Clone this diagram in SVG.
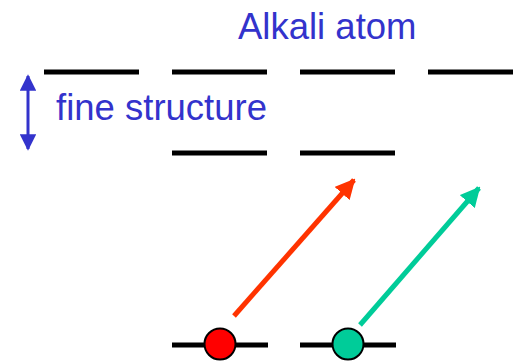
<svg xmlns="http://www.w3.org/2000/svg" width="513" height="361" viewBox="0 0 513 361">
<style>
.lvl{stroke:#000;stroke-width:5;fill:none}
.lbl{font-family:"Liberation Sans",Arial,sans-serif;font-size:36.5px;fill:#3333CC}
</style>
<defs>
<marker id="hb" viewBox="0 0 10 10" refX="10" refY="5" markerWidth="6" markerHeight="6" markerUnits="userSpaceOnUse" orient="auto"/>
<marker id="ar" viewBox="0 0 10 10" refX="9" refY="5" markerWidth="4" markerHeight="4" orient="auto"><path d="M0,0 L10,5 L0,10 Z" fill="#FF3300"/></marker>
<marker id="ag" viewBox="0 0 10 10" refX="9" refY="5" markerWidth="4" markerHeight="4" orient="auto"><path d="M0,0 L10,5 L0,10 Z" fill="#00CC99"/></marker>
<marker id="ab" viewBox="0 0 10 10" refX="9" refY="5" markerWidth="5.5" markerHeight="5.5" orient="auto-start-reverse"><path d="M0,0 L10,5 L0,10 Z" fill="#3333CC"/></marker>
</defs>
<rect width="513" height="361" fill="#fff"/>
<g id="title"><text class="lbl" x="238" y="39">Alkali atom</text></g>
<g id="levels">
<line class="lvl" x1="44" y1="72" x2="139" y2="72"/>
<line class="lvl" x1="172" y1="72" x2="267" y2="72"/>
<line class="lvl" x1="300" y1="72" x2="395" y2="72"/>
<line class="lvl" x1="428" y1="72" x2="513" y2="72"/>
<line class="lvl" x1="172" y1="153" x2="267" y2="153"/>
<line class="lvl" x1="300" y1="153" x2="395" y2="153"/>
<line class="lvl" x1="172" y1="345" x2="268" y2="345"/>
<line class="lvl" x1="300" y1="345" x2="396" y2="345"/>
</g>
<g id="fine-structure">
<line x1="28" y1="76" x2="28" y2="149" stroke="#3333CC" stroke-width="3" marker-start="url(#ab)" marker-end="url(#ab)"/>
<text class="lbl" x="56" y="120">fine structure</text>
</g>
<g id="connectors">
<line x1="234" y1="316" x2="354" y2="180" stroke="#FF3300" stroke-width="5" marker-end="url(#ar)"/>
<line x1="360" y1="325" x2="479" y2="188" stroke="#00CC99" stroke-width="5" marker-end="url(#ag)"/>
</g>
<g id="atom-red"><circle cx="220" cy="344" r="15.5" fill="#FF0000" stroke="#000" stroke-width="2"/></g>
<g id="atom-green"><circle cx="348" cy="344" r="15.5" fill="#00CC99" stroke="#000" stroke-width="2"/></g>
</svg>
